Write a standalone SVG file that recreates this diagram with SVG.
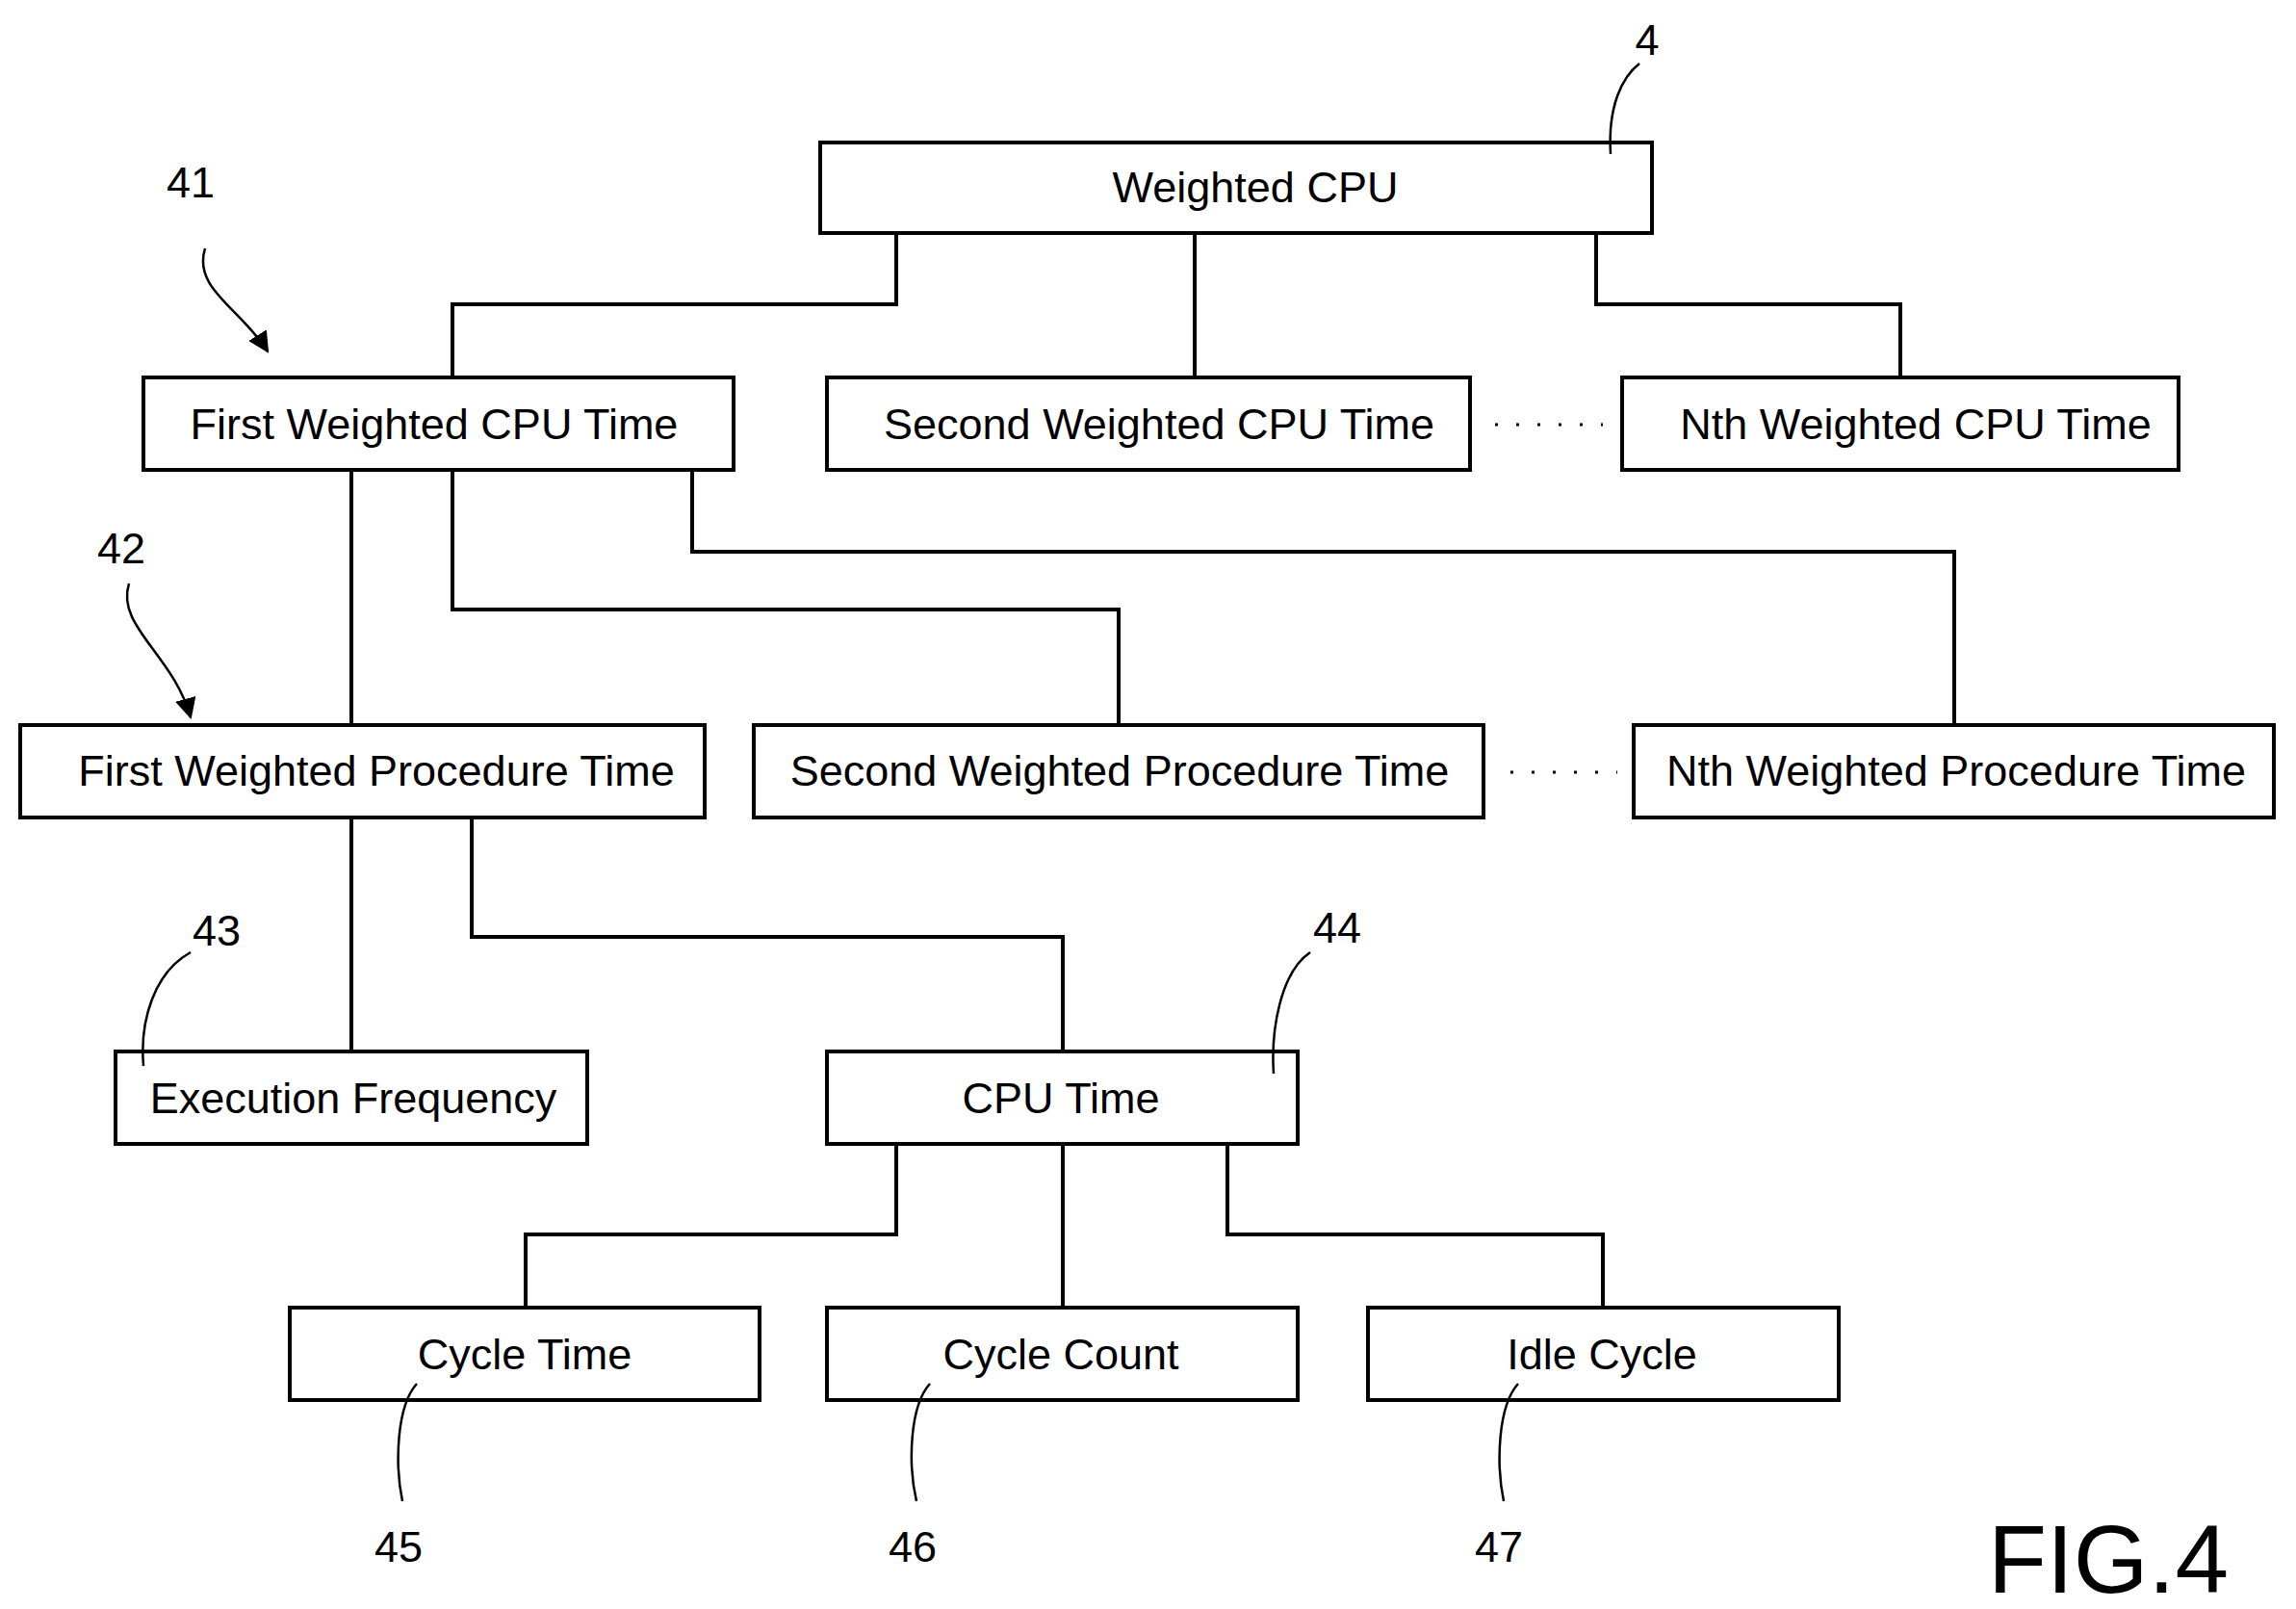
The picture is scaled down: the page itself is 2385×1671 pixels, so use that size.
<svg xmlns="http://www.w3.org/2000/svg" width="2385" height="1671" viewBox="0 0 2385 1671">
<defs>
<style>
.b{fill:#fff;stroke:#000;stroke-width:4}
.t{font-family:"Liberation Sans",Arial,sans-serif;font-size:45px;text-anchor:middle;fill:#000}
.c{fill:none;stroke:#000;stroke-width:4}
.l{fill:none;stroke:#000;stroke-width:2.5}
</style>
<marker id="a" viewBox="0 0 10 10" refX="9" refY="5" markerWidth="8" markerHeight="8" orient="auto" markerUnits="userSpaceOnUse"><path d="M0,0L10,5L0,10z"/></marker>
<marker id="ah" viewBox="0 0 10 10" refX="9" refY="5" markerWidth="22" markerHeight="22" orient="auto" markerUnits="userSpaceOnUse"><path d="M0,0L10,5L0,10z"/></marker>
</defs>
<rect width="2385" height="1671" fill="#fff"/>
<g id="connectors">
<path class="c" d="M931,242V316H470V392M1241,242V392M1658,242V316H1974V392"/>
<path class="c" d="M365,488V753M470,488V633H1162V753M719,488V573H2030V753"/>
<path class="c" d="M365,849V1092M490,849V973H1104V1092"/>
<path class="c" d="M931,1188V1282H546V1358M1104,1188V1358M1275,1188V1282H1665V1358"/>
<path d="M1553,441H1665" stroke="#000" stroke-width="3" stroke-dasharray="3,19" fill="none"/>
<path d="M1569,802H1680" stroke="#000" stroke-width="3" stroke-dasharray="3,19" fill="none"/>
</g>
<g id="n4"><rect class="b" x="852" y="148" width="864" height="94"/><text class="t" x="1304" y="210">Weighted CPU</text></g>
<g id="n41"><rect class="b" x="149" y="392" width="613" height="96"/><text class="t" x="451" y="456">First Weighted CPU Time</text></g>
<g id="n2cpu"><rect class="b" x="859" y="392" width="668" height="96"/><text class="t" x="1204" y="456">Second Weighted CPU Time</text></g>
<g id="nNcpu"><rect class="b" x="1685" y="392" width="578" height="96"/><text class="t" x="1990" y="456">Nth Weighted CPU Time</text></g>
<g id="n42"><rect class="b" x="21" y="753" width="711" height="96"/><text class="t" x="391" y="816">First Weighted Procedure Time</text></g>
<g id="n2proc"><rect class="b" x="783" y="753" width="758" height="96"/><text class="t" x="1163" y="816">Second Weighted Procedure Time</text></g>
<g id="nNproc"><rect class="b" x="1697" y="753" width="665" height="96"/><text class="t" x="2032" y="816">Nth Weighted Procedure Time</text></g>
<g id="n43"><rect class="b" x="120" y="1092" width="490" height="96"/><text class="t" x="367" y="1156">Execution Frequency</text></g>
<g id="n44"><rect class="b" x="859" y="1092" width="489" height="96"/><text class="t" x="1102" y="1156">CPU Time</text></g>
<g id="n45"><rect class="b" x="301" y="1358" width="488" height="96"/><text class="t" x="545" y="1422">Cycle Time</text></g>
<g id="n46"><rect class="b" x="859" y="1358" width="489" height="96"/><text class="t" x="1102" y="1422">Cycle Count</text></g>
<g id="n47"><rect class="b" x="1421" y="1358" width="489" height="96"/><text class="t" x="1664" y="1422">Idle Cycle</text></g>
<g id="labels">
<text class="t" x="1711" y="57">4</text>
<path class="l" d="M1673,160C1670,110 1685,80 1703,66"/>
<text class="t" x="198" y="205">41</text>
<path class="l" marker-end="url(#ah)" d="M213,258C200,300 250,320 278,365"/>
<text class="t" x="126" y="585">42</text>
<path class="l" marker-end="url(#ah)" d="M134,606C120,650 180,680 198,745"/>
<text class="t" x="225" y="982">43</text>
<path class="l" d="M198,989C160,1010 145,1060 149,1107"/>
<text class="t" x="1389" y="979">44</text>
<path class="l" d="M1361,989C1330,1010 1320,1070 1323,1115"/>
<text class="t" x="414" y="1622">45</text>
<path class="l" d="M433,1437C412,1460 410,1520 418,1559"/>
<text class="t" x="948" y="1622">46</text>
<path class="l" d="M966,1437C945,1460 943,1520 952,1559"/>
<text class="t" x="1557" y="1622">47</text>
<path class="l" d="M1577,1437C1556,1460 1554,1520 1562,1559"/>
<text x="2190" y="1654" style="font-family:'Liberation Sans',Arial,sans-serif;font-size:100px;text-anchor:middle">FIG.4</text>
</g>
</svg>
